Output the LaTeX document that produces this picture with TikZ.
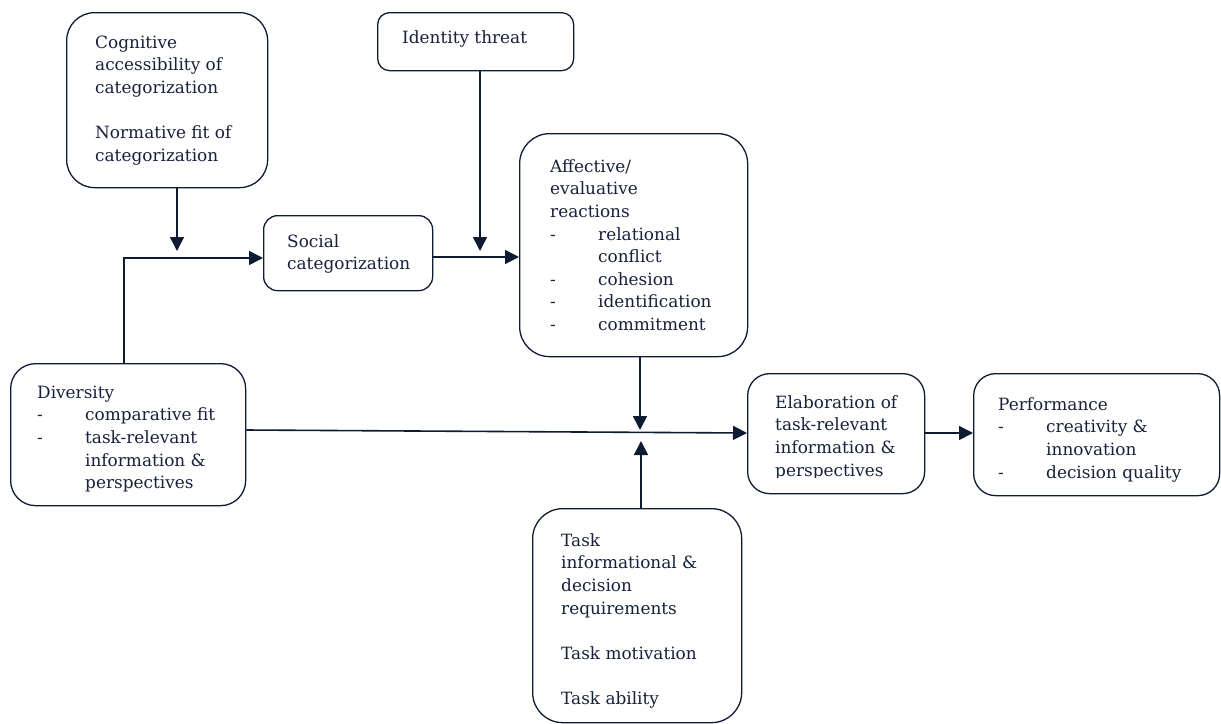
\documentclass[tikz,border=0pt]{standalone}
\usepackage{fontspec}
\setmainfont{DejaVu Serif}
\usetikzlibrary{arrows.meta}
\definecolor{ink}{HTML}{0F1B33}
\definecolor{txt}{HTML}{18213A}
\newcommand{\itm}[1]{\makebox[48pt][l]{-}#1}
\newcommand{\ind}[1]{\hspace*{48pt}#1}
\begin{document}
\begin{tikzpicture}[x=1pt,y=-1pt,
  box/.style={draw=ink, line width=1.3pt, rounded corners=#1, inner sep=0pt, anchor=north west},
  box/.default=14pt,
  lbl/.style={anchor=north west, inner sep=0pt, align=left, text=txt, font=\fontsize{16.9}{22.6}\selectfont},
  link/.style={draw=ink, line width=1.6pt, -{Triangle[length=14pt,width=14pt]}}]
\useasboundingbox (0,0) rectangle (1221,723);
\fill[white] (0,0) rectangle (1221,723);

% boxes
\node[box=28pt, minimum width=201pt, minimum height=175pt] (cog) at (66,12) {};
\node[box=12pt, minimum width=196pt, minimum height=58pt] (ident) at (377,12) {};
\node[box=14pt, minimum width=169pt, minimum height=75pt] (soc) at (263,215) {};
\node[box=30pt, minimum width=228pt, minimum height=223pt] (aff) at (519,133) {};
\node[box=25pt, minimum width=235pt, minimum height=142pt] (div) at (10,363) {};
\node[box=22pt, minimum width=177pt, minimum height=120pt] (elab) at (747,373) {};
\node[box=22pt, minimum width=246pt, minimum height=122pt] (perf) at (973,373) {};
\node[box=30pt, minimum width=209pt, minimum height=214pt] (task) at (532,508) {};

% texts
\node[lbl] (cogT) at (95,32.2) {\strut Cognitive\\accessibility of\\categorization\\[22.6pt]Normative fit of\\categorization};
\node[lbl] (identT) at (402,27.2) {\strut Identity threat};
\node[lbl] (socT) at (287,231.2) {\strut Social\\categorization};
\node[lbl] (affT) at (550,156.2) {\strut Affective/\\evaluative\\reactions\\\itm{relational}\\\ind{conflict}\\\itm{cohesion}\\\itm{identification}\\\itm{commitment}};
\node[lbl] (divT) at (37,382.2) {\strut Diversity\\\itm{comparative fit}\\\itm{task-relevant}\\\ind{information \&}\\\ind{perspectives}};
\begin{scope}
\clip (747,373) rectangle (924,477);
\node[lbl] (elabT) at (775,392.2) {\strut Elaboration of\\task-relevant\\information \&\\perspectives};
\end{scope}
\node[lbl] (perfT) at (998,394.2) {\strut Performance\\\itm{creativity \&}\\\ind{innovation}\\\itm{decision quality}};
\node[lbl] (taskT) at (561,530.2) {\strut Task\\informational \&\\decision\\requirements\\[22.6pt]Task motivation\\[22.6pt]Task ability};

% connectors
\coordinate (cogEnd) at (177,251);
\draw[link] (cogEnd |- cog.south) -- (cogEnd);
\coordinate (j1) at (124,258);
\draw[link] (j1 |- div.north) -- (j1) -- (j1 -| soc.west);
\coordinate (idEnd) at (480,251);
\draw[link] (idEnd |- ident.south) -- (idEnd);
\coordinate (j2) at (480,257);
\draw[link] (j2 -| soc.east) -- (j2 -| aff.west);
\coordinate (affEnd) at (640,430);
\draw[link] (affEnd |- aff.south) -- (affEnd);
\coordinate (dA) at (245,430);
\coordinate (dB) at (747,433);
\draw[link] (dA -| div.east) -- (dB -| elab.west);
\coordinate (taskEnd) at (641,441);
\draw[link] (taskEnd |- task.north) -- (taskEnd);
\coordinate (j3) at (940,433);
\draw[link] (j3 -| elab.east) -- (j3 -| perf.west);
\end{tikzpicture}
\end{document}
